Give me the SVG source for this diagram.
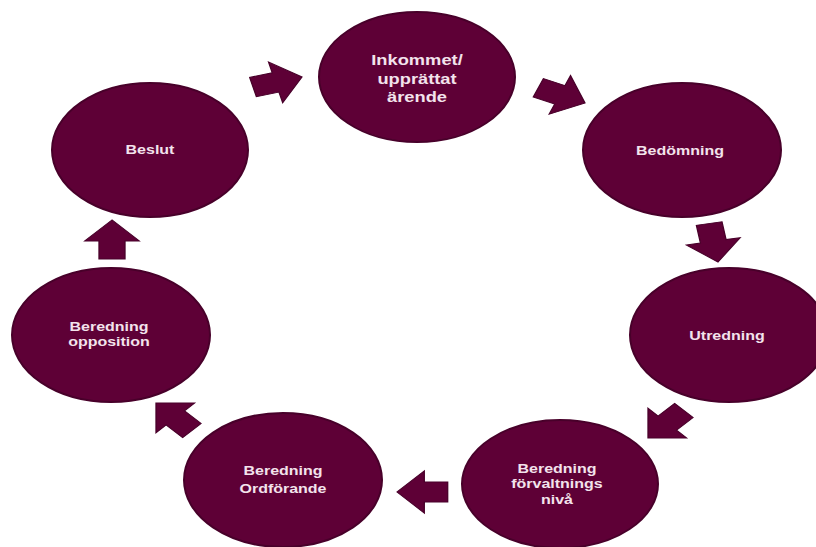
<svg xmlns="http://www.w3.org/2000/svg" width="816" height="547" viewBox="0 0 816 547">
  <defs>
    <style>
      .node { fill: #5e0036; stroke: #48002a; stroke-width: 2; }
      .arrow { fill: #5e0036; stroke: #48002a; stroke-width: 1; }
      .lbl { font-family: "Liberation Sans", Arial, sans-serif; font-weight: bold; font-size: 13px; fill: #f3e3ec; text-anchor: middle; }
      .big { font-size: 15px; }
    </style>
    <polygon id="arr" points="0,0 -21,-21 -21,-10 -39,-10 -39,10 -21,10 -21,21"/>
  </defs>
  <rect width="816" height="547" fill="#ffffff"/>

  <g id="connectors">
    <use href="#arr" class="arrow" transform="translate(302,77) scale(1.3,1) rotate(-15)"/>
    <use href="#arr" class="arrow" transform="translate(585,103) scale(1.3,1) rotate(23)"/>
    <use href="#arr" class="arrow" transform="translate(718,262) scale(1.3,1) rotate(80)"/>
    <use href="#arr" class="arrow" transform="translate(648,438) scale(1.3,1) rotate(135)"/>
    <use href="#arr" class="arrow" transform="translate(397,492) scale(1.3,1) rotate(180)"/>
    <use href="#arr" class="arrow" transform="translate(156,403) scale(1.3,1) rotate(225)"/>
    <use href="#arr" class="arrow" transform="translate(112,220) scale(1.3,1) rotate(-90)"/>
  </g>

  <g id="inkommet">
    <ellipse class="node" cx="417" cy="77" rx="98" ry="65"/>
    <g transform="translate(417,0) scale(1.22,1)">
      <text class="lbl big" x="0" y="65">Inkommet/</text>
      <text class="lbl big" x="0" y="84">upprättat</text>
      <text class="lbl big" x="0" y="102">ärende</text>
    </g>
  </g>

  <g id="bedomning">
    <ellipse class="node" cx="682" cy="150" rx="99" ry="67"/>
    <g transform="translate(680,0) scale(1.23,1)">
      <text class="lbl" x="0" y="155">Bedömning</text>
    </g>
  </g>

  <g id="utredning">
    <ellipse class="node" cx="729" cy="335" rx="99" ry="67"/>
    <g transform="translate(727,0) scale(1.23,1)">
      <text class="lbl" x="0" y="340">Utredning</text>
    </g>
  </g>

  <g id="forvaltning">
    <ellipse class="node" cx="560" cy="484" rx="98" ry="64"/>
    <g transform="translate(557,0) scale(1.23,1)">
      <text class="lbl" x="0" y="473">Beredning</text>
      <text class="lbl" x="0" y="488">förvaltnings</text>
      <text class="lbl" x="0" y="504">nivå</text>
    </g>
  </g>

  <g id="ordforande">
    <ellipse class="node" cx="283" cy="480" rx="99" ry="67"/>
    <g transform="translate(283,0) scale(1.23,1)">
      <text class="lbl" x="0" y="475">Beredning</text>
      <text class="lbl" x="0" y="493">Ordförande</text>
    </g>
  </g>

  <g id="opposition">
    <ellipse class="node" cx="111" cy="335" rx="99" ry="67"/>
    <g transform="translate(109,0) scale(1.23,1)">
      <text class="lbl" x="0" y="331">Beredning</text>
      <text class="lbl" x="0" y="346">opposition</text>
    </g>
  </g>

  <g id="beslut">
    <ellipse class="node" cx="150" cy="150" rx="98" ry="67"/>
    <g transform="translate(150,0) scale(1.23,1)">
      <text class="lbl" x="0" y="154">Beslut</text>
    </g>
  </g>
</svg>
